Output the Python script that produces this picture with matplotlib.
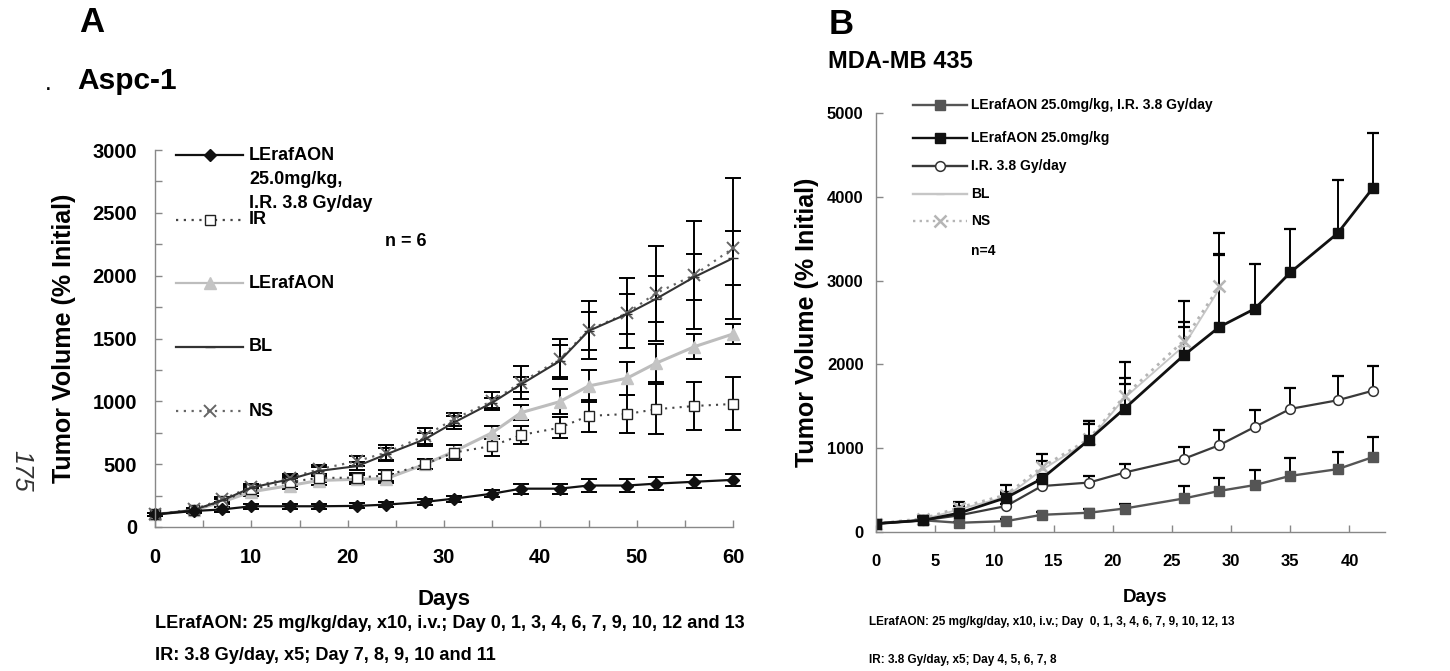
import matplotlib
matplotlib.use("Agg")
import matplotlib.pyplot as plt
from matplotlib.lines import Line2D
import numpy as np

plt.rcParams['font.family'] = ['Liberation Sans', 'DejaVu Sans']
plt.rcParams['font.weight'] = 'bold'

# ---- Panel A data (Aspc-1) ----
days_a = [0, 4, 7, 10, 14, 17, 21, 24, 28, 31, 35, 38, 42, 45, 49, 52, 56, 60]
combo_a = [100, 127, 140, 165, 165, 165, 168, 178, 200, 225, 265, 305, 305, 330, 330, 345, 360, 375]
combo_a_err = [15, 15, 20, 20, 20, 20, 20, 20, 25, 25, 30, 40, 40, 50, 50, 50, 50, 50]
ir_a = [100, 133, 207, 300, 360, 390, 393, 410, 499, 592, 645, 732, 790, 884, 899, 937, 963, 979]
ir_a_err = [10, 15, 20, 30, 30, 30, 35, 40, 40, 60, 80, 75, 85, 125, 150, 200, 190, 211]
aon_a = [100, 133, 200, 280, 330, 370, 380, 385, 499, 600, 750, 910, 997, 1122, 1184, 1303, 1435, 1536]
aon_a_err = [10, 15, 20, 30, 30, 35, 35, 35, 40, 55, 50, 60, 100, 125, 130, 150, 100, 80]
bl_a = [100, 135, 212, 313, 380, 446, 485, 578, 698, 830, 989, 1135, 1320, 1560, 1695, 1815, 1990, 2139]
bl_a_err = [10, 15, 20, 25, 25, 30, 35, 50, 50, 50, 40, 60, 130, 150, 160, 180, 186, 217]
ns_a = [100, 140, 220, 320, 390, 459, 525, 592, 724, 857, 1003, 1149, 1335, 1568, 1701, 1860, 2006, 2218]
ns_a_err = [10, 15, 20, 25, 30, 35, 40, 60, 60, 50, 70, 130, 160, 233, 280, 380, 432, 563]

# ---- Panel B data (MDA-MB 435) ----
days_b = [0, 4, 7, 11, 14, 18, 21, 26, 29, 32, 35, 39, 42]
combo_b = [100, 140, 110, 130, 205, 230, 280, 400, 490, 560, 670, 750, 895]
combo_b_err = [0, 15, 15, 20, 30, 40, 60, 143, 159, 179, 214, 210, 242]
aon_b = [100, 140, 225, 410, 635, 1100, 1473, 2108, 2446, 2664, 3097, 3565, 4109]
aon_b_err = [0, 15, 30, 40, 60, 220, 290, 340, 873, 536, 520, 635, 647]
ir_b = [100, 140, 198, 310, 548, 590, 710, 873, 1036, 1254, 1469, 1572, 1687]
ir_b_err = [0, 15, 20, 30, 70, 80, 105, 143, 179, 206, 250, 294, 298]
days_b_ctrl = [0, 4, 7, 11, 14, 18, 21, 26, 29]
bl_b = [100, 150, 270, 420, 740, 1090, 1600, 2220, 2900]
bl_b_err = [0, 20, 40, 60, 110, 200, 240, 290, 400]
ns_b = [100, 160, 290, 444, 773, 1110, 1626, 2283, 2930]
ns_b_err = [0, 30, 70, 120, 160, 210, 400, 470, 640]

W, H = 1450, 671
fig = plt.figure(figsize=(W / 100, H / 100), dpi=100)


def fx(px):
    return px / W


def fy(py):
    return 1 - py / H


def style_axis(ax, spine_col='#888888'):
    for s in ['top', 'right']:
        ax.spines[s].set_visible(False)
    for s in ['left', 'bottom']:
        ax.spines[s].set_color(spine_col)
        ax.spines[s].set_linewidth(1.0)


# ================= Panel A =================
axa = fig.add_axes([fx(155), fy(527), fx(733) - fx(155), fy(150) - fy(527)])
style_axis(axa)
axa.set_xlim(0, 60)
axa.set_ylim(0, 3000)

ebar = dict(ecolor='black', elinewidth=1.4, capsize=6, capthick=1.4, clip_on=False)
axa.errorbar(days_a, ns_a, yerr=ns_a_err, fmt='none', **ebar)
axa.errorbar(days_a, bl_a, yerr=bl_a_err, fmt='none', **ebar)
axa.errorbar(days_a, aon_a, yerr=aon_a_err, fmt='none', **ebar)
axa.errorbar(days_a, ir_a, yerr=ir_a_err, fmt='none', **ebar)
axa.errorbar(days_a, combo_a, yerr=combo_a_err, fmt='none', **ebar)

axa.plot(days_a, aon_a, color='#bdbdbd', lw=2.2, marker='^', ms=8, mfc='#c4c4c4', mec='#c4c4c4', clip_on=False)
axa.plot(days_a, ir_a, color='#444444', lw=1.5, ls=(0, (1, 2.5)), marker='s', ms=7, mfc='white', mec='#222222', mew=1.0, clip_on=False)
axa.plot(days_a, ns_a, color='#666666', lw=1.6, ls=(0, (1, 2.5)), marker='x', ms=8, mec='#666666', mew=1.4, clip_on=False)
axa.plot(days_a, bl_a, color='#333333', lw=1.5, marker='_', ms=7, mec='#333333', clip_on=False)
axa.plot(days_a, combo_a, color='#111111', lw=1.6, marker='D', ms=6, mfc='#111111', mec='#111111', clip_on=False)

axa.set_xticks(np.arange(0, 61, 10))
axa.set_xticks(np.arange(0, 61, 5), minor=True)
axa.set_yticks(np.arange(0, 3001, 500))
axa.set_yticks(np.arange(0, 3001, 250), minor=True)
axa.tick_params(which='both', direction='in', length=5, width=1, color='#888888')
axa.tick_params(axis='y', which='major', labelsize=14.5, pad=13)
axa.tick_params(axis='x', which='major', labelsize=14.5, pad=15)
for lab in axa.get_xticklabels() + axa.get_yticklabels():
    lab.set_fontweight('bold')

fig.text(fx(64), fy(338), 'Tumor Volume (% Initial)', rotation=90, fontsize=18,
         fontweight='bold', ha='center', va='center')
fig.text(fx(444), fy(600), 'Days', fontsize=16, fontweight='bold', ha='center', va='center')

# Panel A legend (hand placed, as in the original figure)
leg_a = [
    (155, '#111111', '-', dict(marker='D', ms=6, mfc='#111111', mec='#111111'), 'LErafAON\n25.0mg/kg,\nI.R. 3.8 Gy/day'),
    (220, '#444444', (0, (1, 2.5)), dict(marker='s', ms=7, mfc='white', mec='#222222', mew=1.0), 'IR'),
    (283, '#bdbdbd', '-', dict(marker='^', ms=8, mfc='#c4c4c4', mec='#c4c4c4'), 'LErafAON'),
    (347, '#333333', '-', dict(marker='_', ms=7, mec='#333333'), 'BL'),
    (411, '#666666', (0, (1, 2.5)), dict(marker='x', ms=8, mec='#666666', mew=1.4), 'NS'),
]
for py, col, ls, mk, lab in leg_a:
    fig.add_artist(Line2D([fx(176), fx(243)], [fy(py), fy(py)], color=col, ls=ls, lw=1.6))
    fig.add_artist(Line2D([fx(210)], [fy(py)], ls='none', **mk))
    fig.text(fx(249), fy(py), lab.split('\n')[0], fontsize=13, fontweight='bold', va='center')
    for k, extra in enumerate(lab.split('\n')[1:]):
        fig.text(fx(249), fy(py + 25 + 23 * k), extra, fontsize=13, fontweight='bold', va='center')
fig.text(fx(406), fy(242), 'n = 6', fontsize=13, fontweight='bold', ha='center', va='center')

fig.text(fx(79), fy(23), 'A', fontsize=25, fontweight='bold', va='center')
fig.text(fx(77), fy(81), 'Aspc-1', fontsize=21.5, fontweight='bold', va='center')
fig.text(fx(48), fy(86), '.', fontsize=12, fontweight='bold', ha='center', va='center')
fig.text(fx(21), fy(471), '175', fontsize=18, fontweight='normal', style='italic',
         rotation=270, ha='center', va='center', color='#333333')

fig.text(fx(155), fy(623), 'LErafAON: 25 mg/kg/day, x10, i.v.; Day 0, 1, 3, 4, 6, 7, 9, 10, 12 and 13',
         fontsize=13.1, fontweight='bold', va='center')
fig.text(fx(155), fy(655), 'IR: 3.8 Gy/day, x5; Day 7, 8, 9, 10 and 11',
         fontsize=13.1, fontweight='bold', va='center')

# ================= Panel B =================
axb = fig.add_axes([fx(876), fy(532), fx(1385) - fx(876), fy(113) - fy(532)])
style_axis(axb)
axb.set_xlim(0, 43)
axb.set_ylim(0, 5000)


def upper_err(ax, x, y, e, col='black'):
    y = np.asarray(y, float)
    e = np.asarray(e, float)
    ax.errorbar(x, y, yerr=[np.zeros_like(e), e], fmt='none', ecolor=col, elinewidth=1.4, capsize=0)
    ax.plot(x, y + e, ls='none', marker='_', ms=9, mew=1.6, color=col)


upper_err(axb, days_b_ctrl, ns_b, ns_b_err)
upper_err(axb, days_b_ctrl, bl_b, bl_b_err)
upper_err(axb, days_b, aon_b, aon_b_err)
upper_err(axb, days_b, ir_b, ir_b_err)
upper_err(axb, days_b, combo_b, combo_b_err)

axb.plot(days_b_ctrl, bl_b, color='#c6c6c6', lw=1.3, marker='_', ms=6, mec='#c6c6c6')
axb.plot(days_b_ctrl, ns_b, color='#b5b5b5', lw=2.0, ls=(0, (1, 1.8)), marker='x', ms=8, mec='#b5b5b5', mew=1.8)
axb.plot(days_b, ir_b, color='#3a3a3a', lw=1.6, marker='o', ms=7, mfc='white', mec='#333333', mew=1.1)
axb.plot(days_b, combo_b, color='#555555', lw=1.7, marker='s', ms=7, mfc='#555555', mec='#555555')
axb.plot(days_b, aon_b, color='#111111', lw=2.0, marker='s', ms=7, mfc='#111111', mec='#111111')

axb.set_xticks(np.arange(0, 41, 5))
axb.set_yticks(np.arange(0, 5001, 1000))
axb.tick_params(which='both', direction='in', length=5, width=1, color='#888888')
axb.tick_params(axis='y', labelsize=12, pad=9)
axb.tick_params(axis='x', labelsize=12, pad=16)
for lab in axb.get_xticklabels() + axb.get_yticklabels():
    lab.set_fontweight('bold')

fig.text(fx(807), fy(322), 'Tumor Volume (% Initial)', rotation=90, fontsize=18,
         fontweight='bold', ha='center', va='center')
fig.text(fx(1145), fy(598), 'Days', fontsize=13.5, fontweight='bold', ha='center', va='center')

leg_b = [
    (105, '#555555', '-', dict(marker='s', ms=7, mfc='#555555', mec='#555555'), 'LErafAON 25.0mg/kg, I.R. 3.8 Gy/day'),
    (138, '#111111', '-', dict(marker='s', ms=7, mfc='#111111', mec='#111111'), 'LErafAON 25.0mg/kg'),
    (166, '#3a3a3a', '-', dict(marker='o', ms=7, mfc='white', mec='#333333', mew=1.1), 'I.R. 3.8 Gy/day'),
    (194, '#c6c6c6', '-', dict(marker='_', ms=6, mec='#c6c6c6'), 'BL'),
    (221, '#b5b5b5', (0, (1, 1.8)), dict(marker='x', ms=8, mec='#b5b5b5', mew=1.8), 'NS'),
]
for py, col, ls, mk, lab in leg_b:
    fig.add_artist(Line2D([fx(913), fx(967)], [fy(py), fy(py)], color=col, ls=ls, lw=1.7))
    fig.add_artist(Line2D([fx(940)], [fy(py)], ls='none', **mk))
    fig.text(fx(971), fy(py), lab, fontsize=10, fontweight='bold', va='center')
fig.text(fx(971), fy(251), 'n=4', fontsize=10, fontweight='bold', va='center')

fig.text(fx(829), fy(24), 'B', fontsize=25, fontweight='bold', va='center')
fig.text(fx(828), fy(62), 'MDA-MB 435', fontsize=17, fontweight='bold', va='center')

fig.text(fx(869), fy(622), 'LErafAON: 25 mg/kg/day, x10, i.v.; Day  0, 1, 3, 4, 6, 7, 9, 10, 12, 13',
         fontsize=8.5, fontweight='bold', va='center')
fig.text(fx(869), fy(660), 'IR: 3.8 Gy/day, x5; Day 4, 5, 6, 7, 8',
         fontsize=8.5, fontweight='bold', va='center')

fig.savefig('out.png', dpi=100, facecolor='white')
